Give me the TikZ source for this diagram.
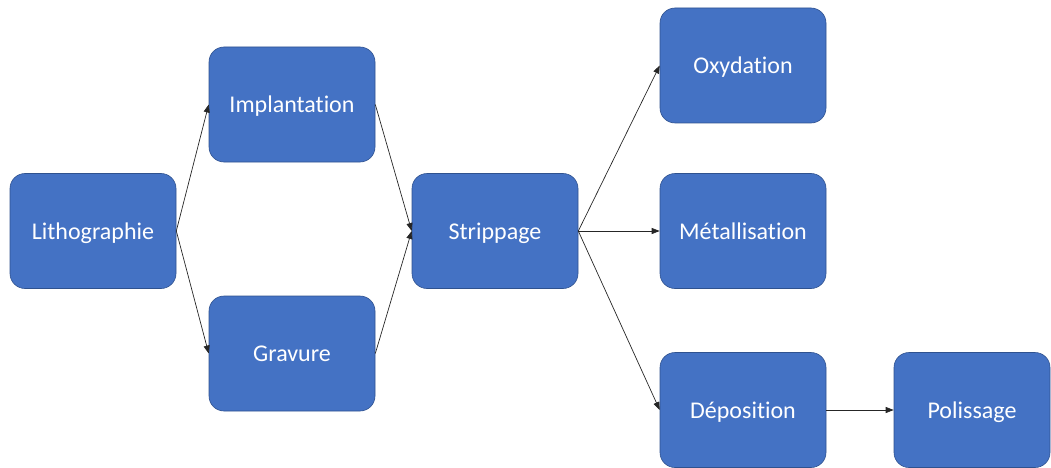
\documentclass[tikz,border=0pt]{standalone}
\usepackage{fontspec}
\setmainfont[Ligatures=NoCommon]{Carlito}
\usetikzlibrary{arrows.meta}
\definecolor{boxblue}{HTML}{4472C4}
\definecolor{boxedge}{HTML}{2F528F}
\begin{document}
\begin{tikzpicture}[x=1pt,y=-1pt,
  stepbox/.style={rectangle, rounded corners=15pt, fill=boxblue, draw=boxedge, line width=0.6pt,
    minimum width=166pt, minimum height=115pt, inner sep=0pt, text=white,
    text height=16pt, text depth=0pt,
    font=\fontsize{24}{28}\selectfont},
  conn/.style={draw=black!85, line width=0.7pt, -{Triangle[length=8pt,width=6pt]}}]
\useasboundingbox (0,0) rectangle (1051,468);
\node[stepbox] (litho) at (93,231) {Lithographie};
\node[stepbox] (impl) at (292,104.5) {Implantation};
\node[stepbox] (grav) at (292,353.5) {Gravure};
\node[stepbox] (strip) at (495,231) {Strippage};
\node[stepbox] (oxy) at (743,65.5) {Oxydation};
\node[stepbox] (metal) at (743,231) {Métallisation};
\node[stepbox] (depo) at (743,410) {Déposition};
\node[stepbox, minimum width=156pt] (poli) at (972,410) {Polissage};
\draw[conn] (litho.east) -- (impl.west);
\draw[conn] (litho.east) -- (grav.west);
\draw[conn] (impl.east) -- (strip.west);
\draw[conn] (grav.east) -- (strip.west);
\draw[conn] (strip.east) -- (oxy.west);
\draw[conn] (strip.east) -- (metal.west);
\draw[conn] (strip.east) -- (depo.west);
\draw[conn] (depo.east) -- (poli.west);
\end{tikzpicture}
\end{document}
